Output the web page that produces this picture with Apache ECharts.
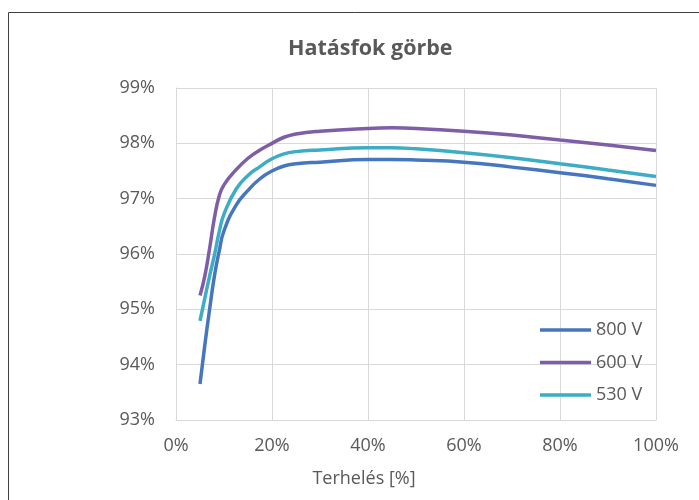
<!DOCTYPE html>
<html>
<head>
<meta charset="utf-8">
<script src="https://cdn.jsdelivr.net/npm/echarts@6/dist/echarts.min.js"></script>
<style>html,body{margin:0;padding:0;background:#fff;}#c{width:699px;height:500px;}</style>
</head>
<body>
<div id="c"></div>
<script>
const titleText = 'Hatásfok görbe';
const xAxisName = 'Terhelés [%]';
const loadPct = [5, 6, 7, 8, 9, 10, 12.5, 15, 17.5, 20, 22.5, 25, 30, 40, 45, 50, 60, 70, 80, 90, 100];
const seriesNames = ['800 V', '600 V', '530 V'];
const eff800 = [93.65, 94.35, 95.0, 95.6, 96.05, 96.42, 96.88, 97.15, 97.36, 97.5, 97.59, 97.63, 97.66, 97.71, 97.71, 97.7, 97.66, 97.57, 97.47, 97.36, 97.24];
const eff600 = [95.25, 95.6, 96.1, 96.65, 97.05, 97.25, 97.52, 97.73, 97.88, 98.0, 98.11, 98.17, 98.22, 98.27, 98.28, 98.27, 98.22, 98.15, 98.06, 97.97, 97.87];
const eff530 = [94.79, 95.2, 95.6, 95.98, 96.4, 96.72, 97.17, 97.42, 97.58, 97.72, 97.81, 97.85, 97.88, 97.92, 97.92, 97.9, 97.83, 97.74, 97.63, 97.52, 97.40];
const colors = ['#4677BE', '#7E5EA6', '#3DADC6'];

const pair = arr => loadPct.map((x, i) => [x, arr[i]]);
const allData = [eff800, eff600, eff530];

const chart = echarts.init(document.getElementById('c'), null, {renderer: 'canvas'});
const font = "'Open Sans', sans-serif";
chart.setOption({
  animation: false,
  backgroundColor: '#fff',
  title: {
    text: titleText, left: 283, top: 33,
    textStyle: {fontFamily: font, fontSize: 21.5, fontWeight: 'bold', color: '#595959'}
  },
  graphic: [{
    type: 'rect', shape: {x: 8.5, y: 12.5, width: 800, height: 600},
    style: {fill: 'none', stroke: '#404040', lineWidth: 1}, silent: true, z: -1
  }],
  grid: {left: 176, top: 88, width: 480, height: 332},
  legend: {
    orient: 'vertical', left: 535, top: 316, icon: 'rect', itemWidth: 51, itemHeight: 3.5, itemGap: 14.5,
    textStyle: {fontFamily: font, fontSize: 18, color: '#595959'},
    data: seriesNames
  },
  xAxis: {
    type: 'value', min: 0, max: 100, interval: 20,
    name: xAxisName, nameLocation: 'middle', nameGap: 50,
    nameTextStyle: {fontFamily: font, fontSize: 18, color: '#595959', padding: [0, 104, 0, 0]},
    axisLine: {show: true, lineStyle: {color: '#d9d9d9', width: 1}},
    axisTick: {show: false},
    splitLine: {show: true, lineStyle: {color: '#d9d9d9', width: 1}},
    axisLabel: {formatter: '{value}%', margin: 17, fontFamily: font, fontSize: 18, color: '#595959'}
  },
  yAxis: {
    type: 'value', min: 93, max: 99, interval: 1,
    axisLine: {show: true, lineStyle: {color: '#d9d9d9', width: 1}},
    axisTick: {show: false},
    splitLine: {show: true, lineStyle: {color: '#d9d9d9', width: 1}},
    axisLabel: {formatter: '{value}%', margin: 21, fontFamily: font, fontSize: 18, color: '#595959'}
  },
  series: seriesNames.map((n, i) => ({
    name: n, type: 'line', data: pair(allData[i]), smooth: 0.5,
    symbol: 'none', showSymbol: false,
    lineStyle: {color: colors[i], width: 3.5}, itemStyle: {color: colors[i]}
  }))
});
</script>
</body>
</html>
